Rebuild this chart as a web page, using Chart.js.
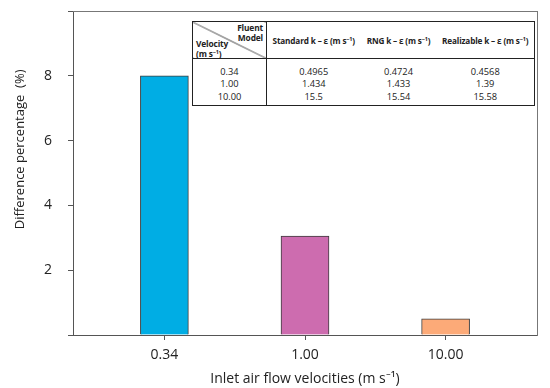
<!DOCTYPE html>
<html>
<head>
<meta charset="utf-8">
<script src="https://cdn.jsdelivr.net/npm/chart.js@4.4.0/dist/chart.umd.min.js"></script>
<style>
body { margin: 0; background: #fff; }
#wrap { position: relative; width: 550px; height: 388px; }
#tbl {
  position: absolute; left: 192px; top: 21px; width: 342px;
  border-collapse: collapse; table-layout: fixed; background: #fff;
  border: 1.5px solid #222; color: #222;
  font-family: "Open Sans", sans-serif; font-size: 9.3px;
}
#tbl th { font-weight: bold; font-size: 8.2px; letter-spacing: -0.15px; height: 36px; padding: 0; text-align: center;
  border-bottom: 1.5px solid #222; white-space: nowrap; }
#tbl td { text-align: center; padding: 0; height: 12.3px; line-height: 12.3px; }
#tbl tr.first td { padding-top: 7px; }
#tbl tr.last td { padding-bottom: 2px; }
#tbl .c1 { border-right: 1px solid #222; }
#tbl th.corner { position: relative; font-size: 8.4px;
  background: linear-gradient(to top right, transparent calc(50% - 0.7px), #222 50%, transparent calc(50% + 0.7px)); }
#tbl .fm { position: absolute; right: 3px; top: 1px; text-align: right; line-height: 9.5px; }
#tbl .vel { position: absolute; left: 3px; bottom: 0; text-align: left; line-height: 9.5px; }
sup { font-size: 5.5px; vertical-align: 3px; line-height: 0; }
</style>
</head>
<body>
<div id="wrap">
  <canvas id="myChart" width="550" height="388"></canvas>
  <table id="tbl"></table>
</div>
<script>
// bars
var velocities = ['0.34', '1.00', '10.00'];
var differences = [8.0, 3.05, 0.5];
var barColors = ['#00ade4', '#cd6caf', '#fcaa78'];
var yTicks = [2, 4, 6, 8];

// inset table
var models = ['Standard k \u2013 \u03b5', 'RNG k \u2013 \u03b5', 'Realizable k \u2013 \u03b5'];
var standardKE = ['0.4965', '1.434', '15.5'];
var rngKE = ['0.4724', '1.433', '15.54'];
var realizableKE = ['0.4568', '1.39', '15.58'];

var unit = ' (m s<sup>\u22121</sup>)';
var html = '<colgroup><col style="width:74px"><col style="width:94px"><col style="width:76px"><col style="width:98px"></colgroup>';
html += '<tr><th class="corner c1"><span class="fm">Fluent<br>Model</span><span class="vel">Velocity<br>(m s<sup>\u22121</sup>)</span></th>';
for (var m = 0; m < models.length; m++) {
  html += '<th>' + models[m] + unit + '</th>';
}
html += '</tr>';
for (var r = 0; r < velocities.length; r++) {
  var cls = r === 0 ? 'first' : (r === velocities.length - 1 ? 'last' : '');
  html += '<tr class="' + cls + '"><td class="c1">' + velocities[r] + '</td><td>' + standardKE[r] +
    '</td><td>' + rngKE[r] + '</td><td>' + realizableKE[r] + '</td></tr>';
}
document.getElementById('tbl').innerHTML = html;

var axisFont = { family: '"Open Sans", sans-serif', size: 14 };

// fixed axis boxes, no extra label padding
function fixBox(w, h) {
  return function (s) {
    if (w !== null) s.width = w;
    if (h !== null) s.height = h;
    s.paddingTop = 0; s.paddingBottom = 0; s.paddingLeft = 0; s.paddingRight = 0;
  };
}

new Chart('myChart', {
  type: 'bar',
  data: {
    datasets: [{
      data: differences.map(function (v, i) { return { x: i, y: v }; }),
      backgroundColor: barColors,
      borderColor: '#3c3c3c',
      borderWidth: 1,
      barThickness: 48
    }]
  },
  options: {
    responsive: false,
    animation: false,
    layout: { padding: { left: 0, right: 13, top: 11, bottom: 0 } },
    plugins: { legend: { display: false }, tooltip: { enabled: false } },
    scales: {
      x: {
        type: 'linear', position: 'bottom', min: -0.65, max: 2.65, offset: false,
        afterBuildTicks: function (s) { s.ticks = velocities.map(function (v, i) { return { value: i }; }); },
        afterFit: fixBox(null, 53),
        ticks: {
          callback: function (v) { return velocities[v] !== undefined ? velocities[v] : ''; },
          font: axisFont, color: '#222', padding: 7, maxRotation: 0
        },
        grid: { display: true, offset: false, drawOnChartArea: false, tickLength: 5, color: '#555' },
        border: { display: true, color: '#555', width: 1 },
        title: { display: true, text: 'Inlet air flow velocities (m s\u207b\u00b9)', font: axisFont, color: '#222', padding: { top: 0, bottom: 0.6 } }
      },
      y: {
        position: 'left', min: 0, max: 10,
        afterFit: fixBox(73, null),
        ticks: {
          stepSize: 2,
          callback: function (v) { return yTicks.indexOf(v) >= 0 ? String(v) : ''; },
          font: axisFont, color: '#222', padding: 16
        },
        grid: { display: true, drawOnChartArea: false, tickLength: 5, color: '#555' },
        border: { display: true, color: '#555', width: 1 },
        title: { display: true, text: '\u00a0\u00a0\u00a0\u00a0\u00a0\u00a0\u00a0\u00a0\u00a0\u00a0\u00a0\u00a0\u00a0\u00a0Difference percentage \u00a0(%)',
          font: { family: '"Open Sans", sans-serif', size: 13 }, color: '#222', padding: { top: 12, bottom: 0 } }
      },
      xTop: {
        type: 'linear', position: 'top', min: -0.65, max: 2.65,
        afterFit: fixBox(null, 0),
        ticks: { display: false },
        grid: { display: false },
        border: { display: true, color: '#777', width: 1 }
      },
      yRight: {
        type: 'linear', position: 'right', min: 0, max: 10,
        afterFit: fixBox(0, null),
        ticks: { display: false },
        grid: { display: false },
        border: { display: true, color: '#777', width: 1 }
      }
    }
  }
});
</script>
</body>
</html>
